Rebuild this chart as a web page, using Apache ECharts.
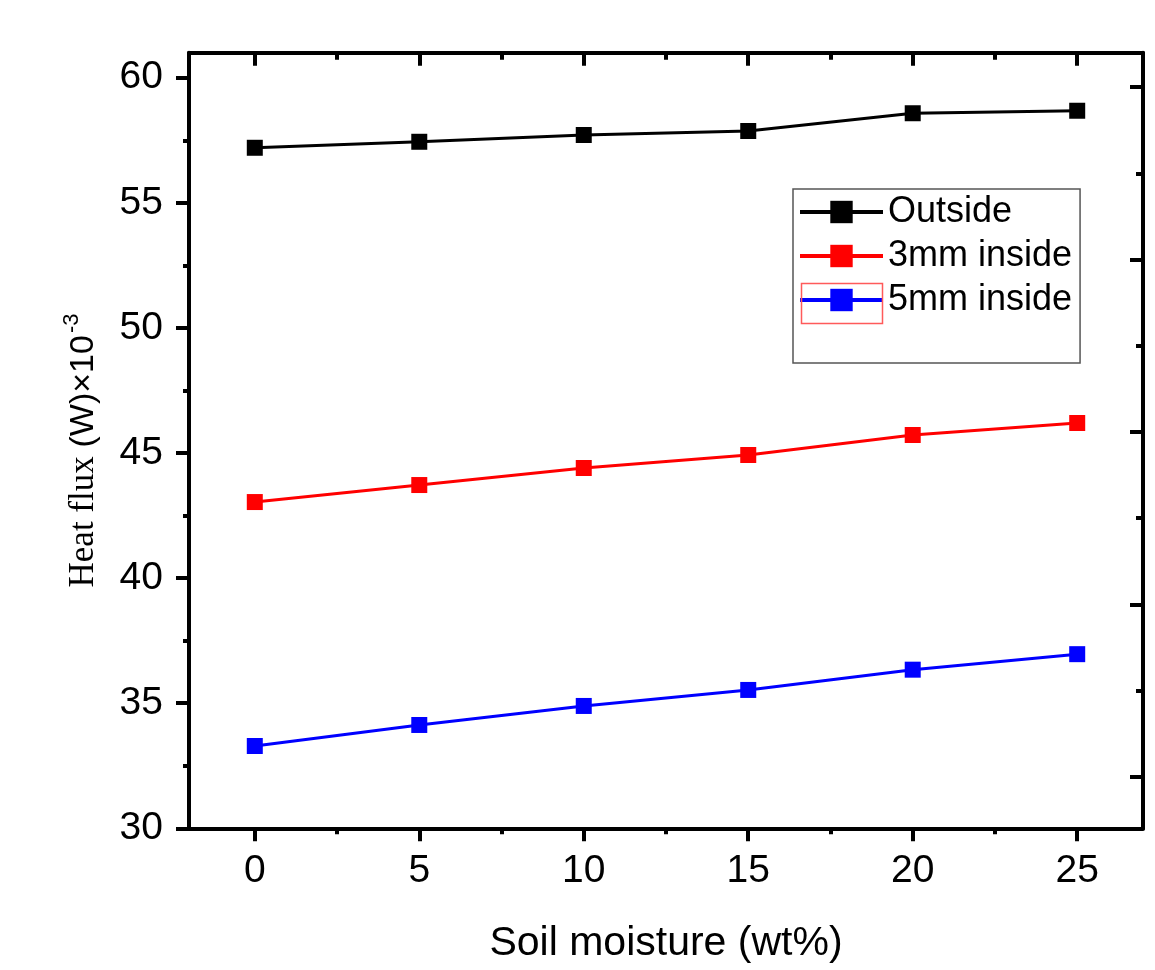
<!DOCTYPE html>
<html>
<head>
<meta charset="utf-8">
<script src="https://cdn.jsdelivr.net/npm/echarts@6/dist/echarts.min.js"></script>
<style>
html,body{margin:0;padding:0;background:#fff;}
#chart{width:1155px;height:970px;}
</style>
</head>
<body>
<div id="chart"></div>
<script>
// ---- data ----
const moisture = [0, 5, 10, 15, 20, 25];
const outside = [57.20, 57.44, 57.71, 57.87, 58.58, 58.68];
const inside3mm = [43.04, 43.72, 44.40, 44.92, 45.72, 46.20];
const inside5mm = [33.29, 34.13, 34.89, 35.53, 36.34, 36.96];
const seriesNames = ['Outside', '3mm inside', '5mm inside'];

// ---- tick labels / positions ----
const xMajorTicks = [0, 5, 10, 15, 20, 25];
const xMinorTicks = [2.5, 7.5, 12.5, 17.5, 22.5];
const yMajorTicks = [30, 35, 40, 45, 50, 55, 60];
const yMinorTicks = [32.5, 37.5, 42.5, 47.5, 52.5, 57.5];
const rightMajorTicks = [32.06, 38.95, 45.84, 52.73, 59.62];
const rightMinorTicks = [35.5, 42.4, 49.29, 56.18];

const SANS = '"Liberation Sans", Arial, sans-serif';
const SERIF = '"Liberation Serif", "Times New Roman", serif';
const X_MIN = -2, X_MAX = 27, Y_MIN = 30, Y_MAX = 61;

function pairs(ys) { return moisture.map((x, i) => [x, ys[i]]); }

function axisBase(extra, showLine) {
  return Object.assign({
    type: 'value',
    splitLine: { show: false },
    axisLine: { show: showLine !== false, onZero: false, lineStyle: { color: '#000', width: 4 } },
    axisLabel: { show: false },
    axisTick: { show: false }
  }, extra);
}
function tick(values, inside, length) {
  return { show: true, inside: inside, length: length, lineStyle: { width: 4, color: '#000' }, customValues: values };
}

const chart = echarts.init(document.getElementById('chart'), null, { renderer: 'canvas' });

const option = {
  backgroundColor: '#fff',
  animation: false,
  grid: { left: 189, right: 12, top: 52.7, bottom: 141.7, containLabel: false },
  xAxis: [
    axisBase({
      position: 'bottom', min: X_MIN, max: X_MAX,
      axisTick: tick(xMajorTicks, false, 13),
      axisLabel: { show: true, customValues: xMajorTicks, margin: 23, fontSize: 39, fontFamily: SANS, color: '#000' },
      name: 'Soil moisture (wt%)', nameLocation: 'middle', nameGap: 95,
      nameTextStyle: { fontSize: 41, fontFamily: SANS, color: '#000' }
    }),
    axisBase({ position: 'bottom', min: X_MIN, max: X_MAX, axisTick: tick(xMinorTicks, false, 6) }, false),
    axisBase({ position: 'top', min: X_MIN, max: X_MAX, axisTick: tick(xMajorTicks, true, 13) }),
    axisBase({ position: 'top', min: X_MIN, max: X_MAX, axisTick: tick(xMinorTicks, true, 7) }, false)
  ],
  yAxis: [
    axisBase({
      position: 'left', min: Y_MIN, max: Y_MAX,
      axisTick: tick(yMajorTicks, false, 13),
      axisLabel: { show: true, customValues: yMajorTicks, margin: 26, fontSize: 39, fontFamily: SANS, color: '#000' },
      name: '{a|Heat flux }{b|(W)×10}{c|-3}',
      nameLocation: 'middle', nameGap: 88, nameRotate: 90,
      nameTextStyle: {
        padding: [0, 20, 0, 0],
        rich: {
          a: { fontSize: 35, fontFamily: SERIF, color: '#000', lineHeight: 40, verticalAlign: 'bottom' },
          b: { fontSize: 34, fontFamily: SANS, color: '#000', lineHeight: 40, verticalAlign: 'bottom' },
          c: { fontSize: 22, fontFamily: SANS, color: '#000', lineHeight: 40, verticalAlign: 'top', padding: [0, 0, 0, 2] }
        }
      }
    }),
    axisBase({ position: 'left', min: Y_MIN, max: Y_MAX, axisTick: tick(yMinorTicks, false, 6) }, false),
    axisBase({ position: 'right', min: Y_MIN, max: Y_MAX, axisTick: tick(rightMajorTicks, true, 13) }),
    axisBase({ position: 'right', min: Y_MIN, max: Y_MAX, axisTick: tick(rightMinorTicks, true, 7) }, false)
  ],
  legend: {
    left: 793, top: 189,
    orient: 'vertical',
    data: seriesNames,
    itemWidth: 83, itemHeight: 28, itemGap: 8,
    padding: [5, 8, 45, 5],
    borderColor: '#555', borderWidth: 1.5,
    backgroundColor: '#fff',
    lineStyle: { width: 4 },
    textStyle: { fontSize: 36, fontFamily: SANS, color: '#000' }
  },
  series: [
    { name: seriesNames[0], data: pairs(outside), color: '#000000' },
    { name: seriesNames[1], data: pairs(inside3mm), color: '#ff0000' },
    { name: seriesNames[2], data: pairs(inside5mm), color: '#0000ff' }
  ].map(s => Object.assign({
    type: 'line', xAxisIndex: 0, yAxisIndex: 0,
    symbol: 'rect', symbolSize: 16,
    lineStyle: { width: 3 },
    emphasis: { disabled: true }
  }, s)),
  graphic: [
    { type: 'rect', left: 799, top: 281, shape: { width: 81, height: 40 },
      style: { fill: 'none', stroke: '#ff5a5a', lineWidth: 1.5 }, z: 100 }
  ]
};
chart.setOption(option);
</script>
</body>
</html>
